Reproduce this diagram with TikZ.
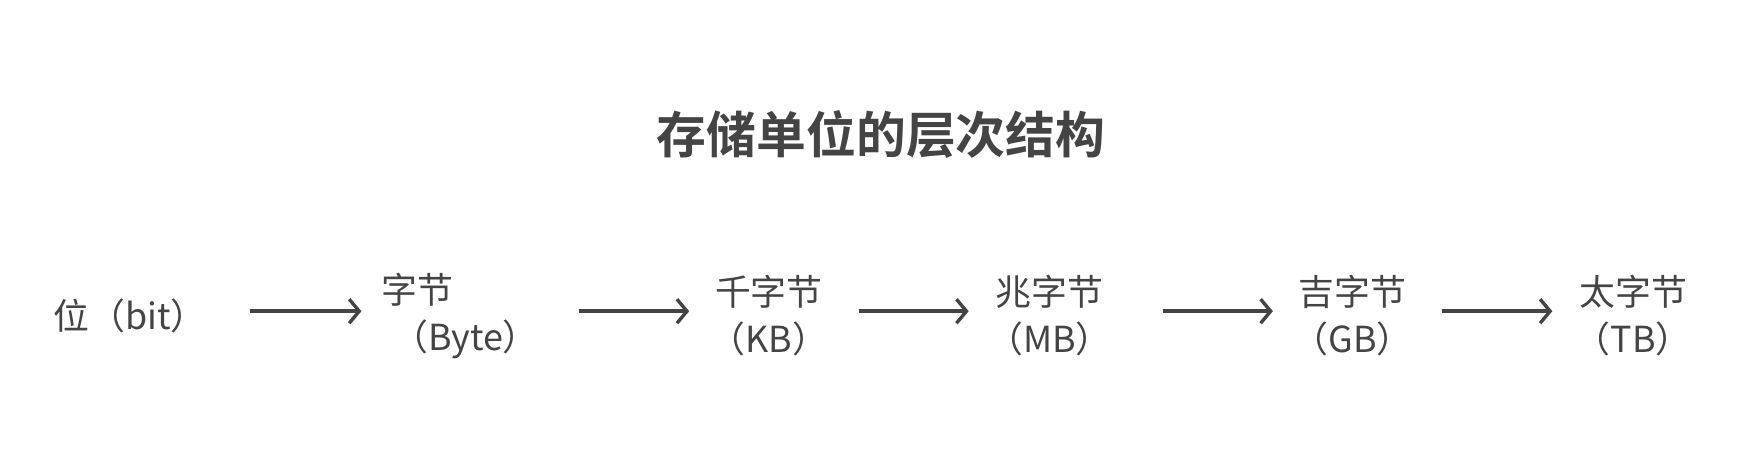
\documentclass[tikz,border=0pt]{standalone}
\usepackage{fontspec}
\setmainfont{Noto Sans CJK SC}
\newfontfamily\titlefont{Noto Sans CJK SC Bold}
\usetikzlibrary{arrows.meta}
\definecolor{ink}{HTML}{444444}
\begin{document}
\begin{tikzpicture}[x=1.1224bp,y=1.1224bp,
  lbl/.style={text=ink,font=\fontsize{36}{47}\selectfont,inner sep=0pt,align=center},
  arr/.style={draw=ink,line width=3.4bp,-{Straight Barb[length=10bp,width=24bp,line width=3.4bp]}}]
\useasboundingbox (0,0) rectangle (1568,406.25);
\node[text=ink,font=\titlefont\fontsize{50}{58}\selectfont] (title) at (785,286) {存储单位的层次结构};
\node[lbl] (bit) at (116,125) {位（bit）};
\node[lbl,align=left] (byte) at (410,125) {字节\\\hspace{0.3em}（Byte）};
\node[lbl] (kb) at (685,125) {千字节\\（KB）};
\node[lbl] (mb) at (935,125) {兆字节\\（MB）};
\node[lbl] (gb) at (1205,125) {吉字节\\（GB）};
\node[lbl] (tb) at (1455,125) {太字节\\（TB）};
\coordinate (a1) at (223,129); \coordinate (b1) at (322,129);
\coordinate (a2) at (516,129); \coordinate (b2) at (614,129);
\coordinate (a3) at (765,129); \coordinate (b3) at (863,129);
\coordinate (a4) at (1036,129); \coordinate (b4) at (1134,129);
\coordinate (a5) at (1285,129); \coordinate (b5) at (1383,129);
\foreach \i in {1,...,5} \draw[arr] (a\i) -- (b\i);
\end{tikzpicture}
\end{document}
